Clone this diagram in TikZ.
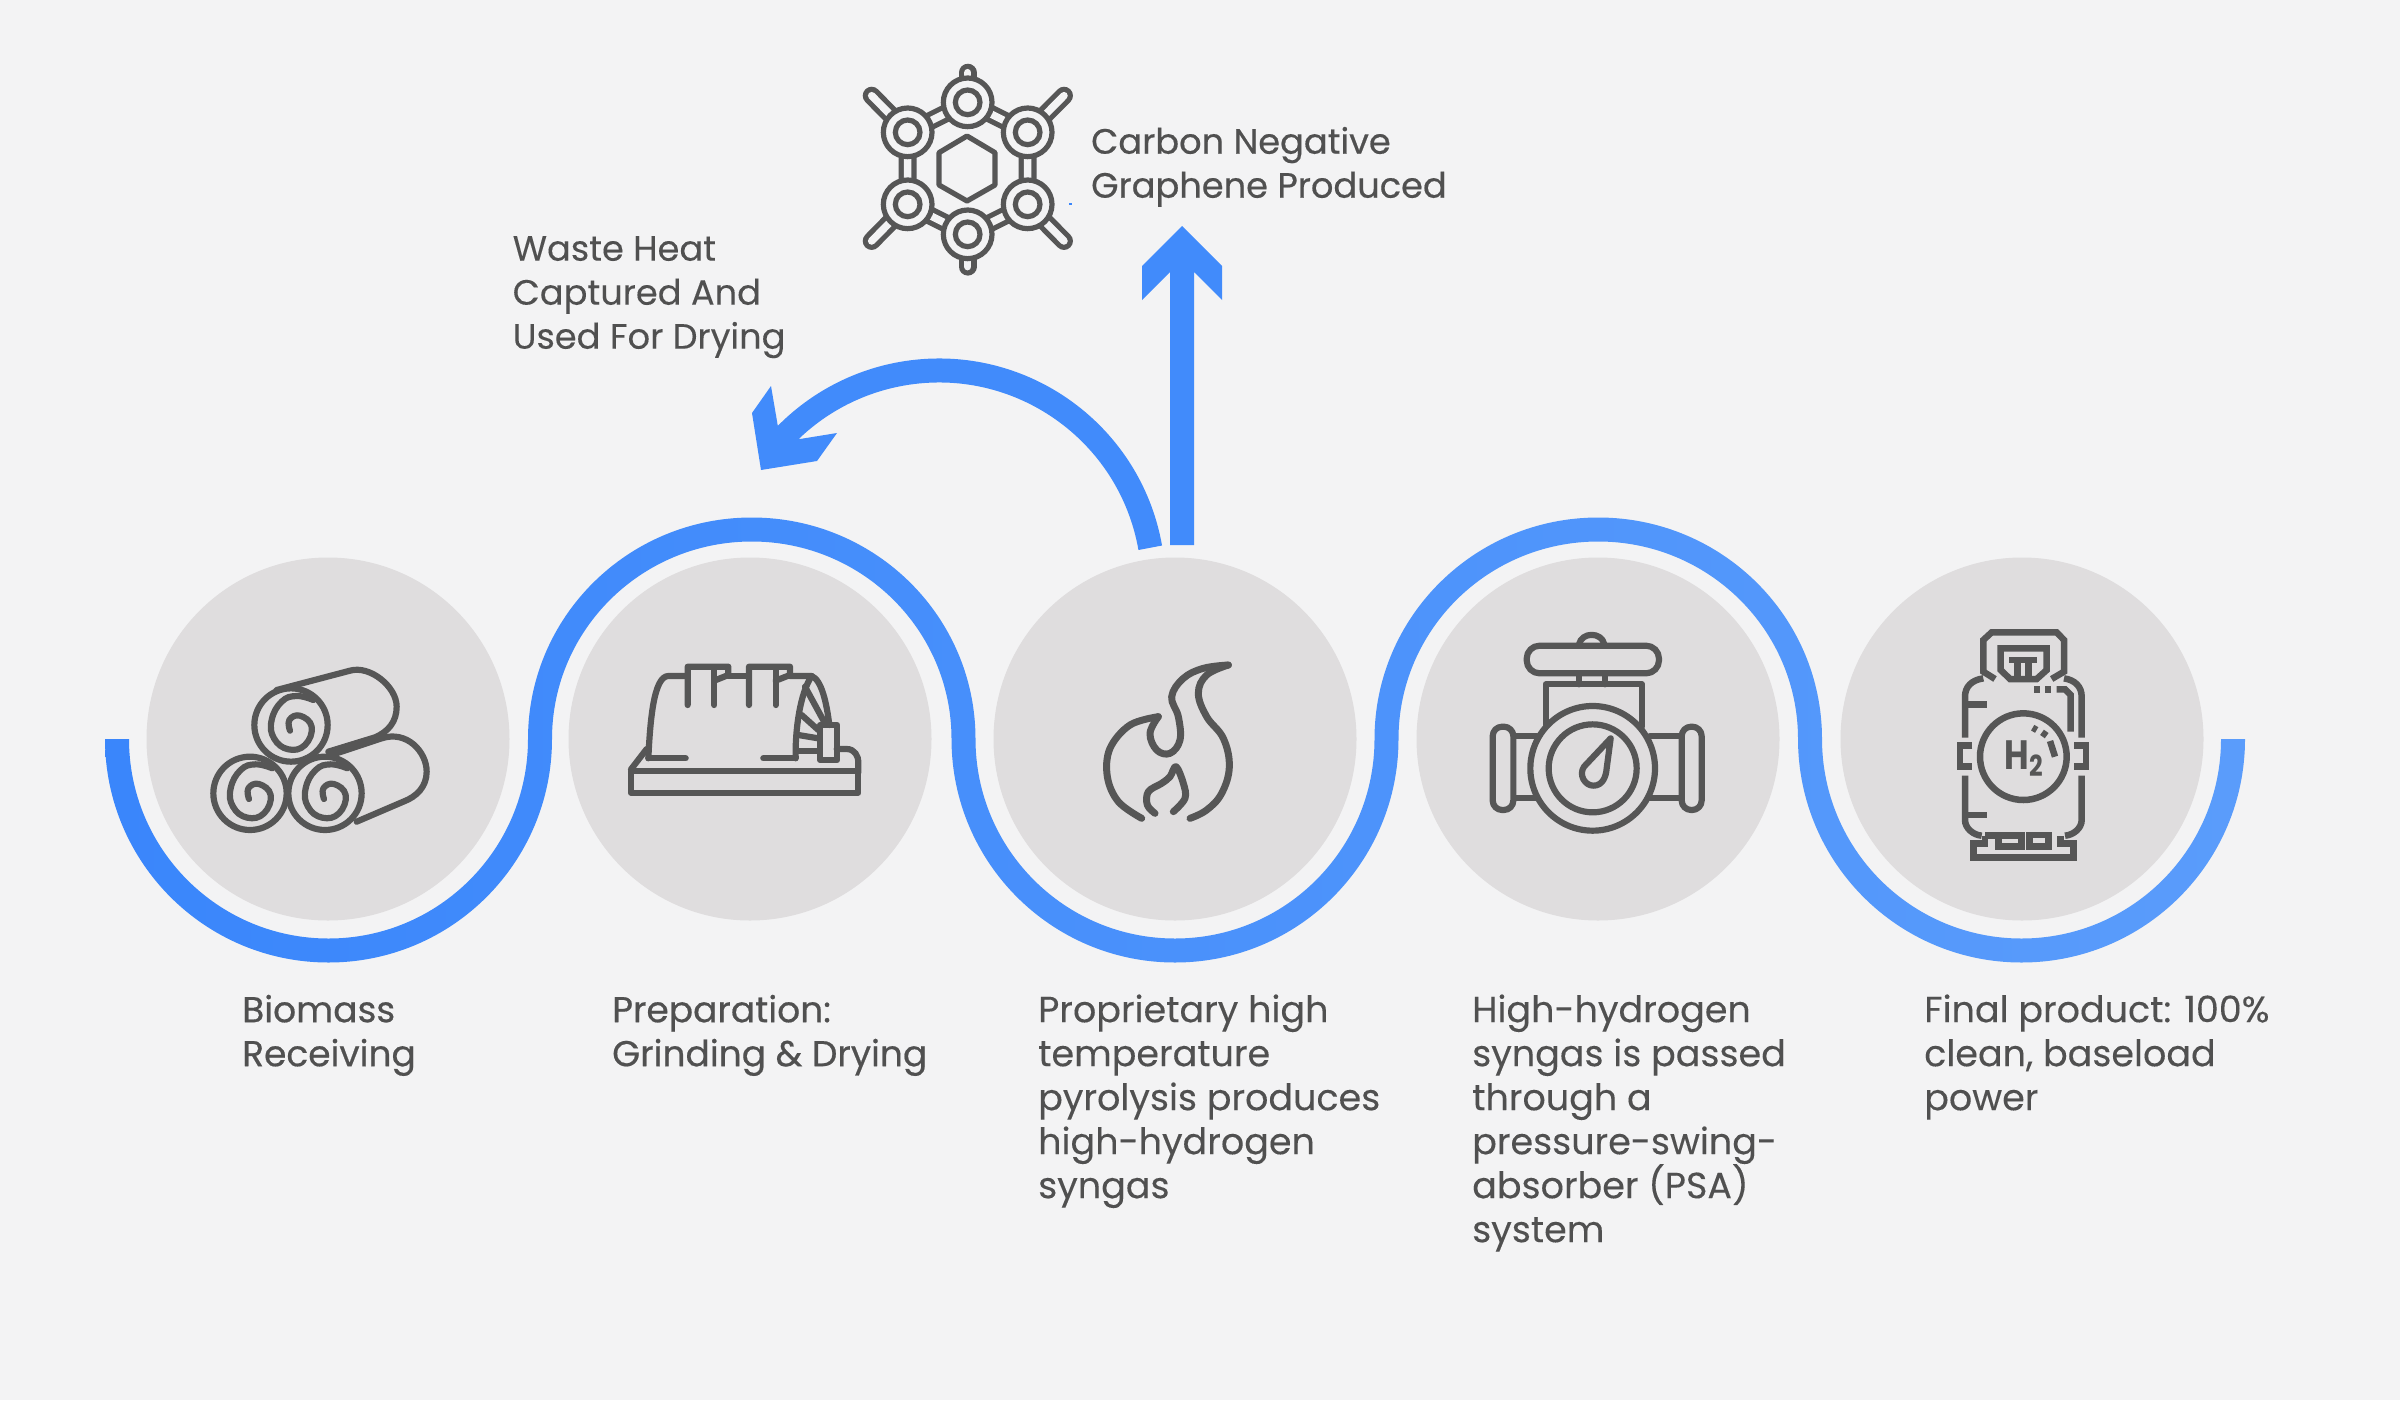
\documentclass[tikz,border=0pt]{standalone}
\usepackage{fontspec}
\usepackage{graphicx}
\usetikzlibrary{calc}
\setmainfont{Poppins}
\newfontfamily\regf{Poppins}[FakeBold=0.15]
\newfontfamily\medf{Poppins}[FakeBold=0.5]
\definecolor{bgc}{HTML}{F3F3F4}
\definecolor{disc}{HTML}{DFDDDE}
\definecolor{ink}{HTML}{565656}
\definecolor{txt}{HTML}{505050}
\definecolor{blueA}{HTML}{3A86FB}
\definecolor{blueB}{HTML}{5A9CFB}
\definecolor{blueC}{HTML}{418BFB}
\newcommand{\tl}{\rule{0pt}{30pt}}
\tikzset{
  stepdisc/.style={circle,fill=disc,minimum size=363pt,inner sep=0pt},
  lbl/.style={anchor=north west,inner sep=0pt,align=left,text=txt,font=\regf\fontsize{36.5}{44}\selectfont},
  lblm/.style={lbl,font=\medf\fontsize{36}{44}\selectfont},
  lbls/.style={lbl,font=\regf\fontsize{35.2}{44}\selectfont},
  lblc/.style={lbl,font=\medf\fontsize{35.2}{44}\selectfont},
  icon/.style={draw=ink,line width=6.2pt,line cap=round,line join=round},
  zoomed/.style={x=0.33333pt,y=-0.33333pt}
}
\begin{document}
\begin{tikzpicture}[x=1pt,y=1pt]
\useasboundingbox (0,0) rectangle (2400,-1400);
\fill[bgc] (0,0) rectangle (2400,-1400);

% discs
\node[stepdisc] (d1) at (328,-739) {};
\node[stepdisc] (d2) at (750,-739) {};
\node[stepdisc] (d3) at (1175,-739) {};
\node[stepdisc] (d4) at (1598,-739) {};
\node[stepdisc] (d5) at (2022,-739) {};

% serpentine band
\path[left color=blueA,right color=blueB]
  (105,-739)
  arc[start angle=180,end angle=360,radius=223.5]
  arc[start angle=180,end angle=0,x radius=199.75,y radius=197.5]
  arc[start angle=180,end angle=360,radius=223.5]
  arc[start angle=180,end angle=0,x radius=199.75,y radius=197.5]
  arc[start angle=180,end angle=360,radius=223.5]
  -- ++(-24,0)
  arc[start angle=360,end angle=180,radius=199.5]
  arc[start angle=0,end angle=180,x radius=223.75,y radius=221.5]
  arc[start angle=360,end angle=180,radius=199.5]
  arc[start angle=0,end angle=180,x radius=223.75,y radius=221.5]
  arc[start angle=360,end angle=180,radius=199.5]
  -- cycle;

% up arrow
\fill[blueC] (1170,-545) -- (1170,-272) -- (1142,-300) -- (1142,-266) -- (1182,-226)
  -- (1222,-266) -- (1222,-300) -- (1194,-272) -- (1194,-545) -- cycle;
% curved arrow
\coordinate (hub) at (939,-585);
\draw[blueC,line width=24pt] ($(hub)+(10:214.5)$) arc[start angle=10,end angle=139,radius=214.5];
\fill[blueC] (771,-386) -- (752,-413) -- (761,-470) -- (817,-461) -- (837,-433) -- (800,-439) -- (790,-432) -- (778,-427) -- cycle;

% labels
\node[lblm] (t1) at (242,-992) {\tl Biomass\\Receiving};
\node[lblm] (t2) at (612,-992) {\tl Preparation:\\Grinding \& Drying};
\node[lbl] (t3) at (1038,-992) {\tl Proprietary high\\temperature\\pyrolysis produces\\high-hydrogen\\syngas};
\node[lbl] (t4) at (1472,-992) {\tl High-hydrogen\\syngas is passed\\through a\\pressure-swing-\\absorber (PSA)\\system};
\node[lbl] (t5) at (1924,-992) {\tl Final product: 100\%\\clean, baseload\\power};
\node[lbls] (t6) at (512.5,-230.5) {\tl Waste Heat\\Captured And\\Used For Drying};
\node[lblc] (t7) at (1091,-123.5) {\tl Carbon Negative\\Graphene Produced};

% graphene icon
\begin{scope}[shift={(840,-50)},zoomed]
  \tikzset{bond/.style={draw=ink,line width=5.2pt,double=bgc,double distance=7.5pt}}
  \draw[bond,line cap=round] (383,68) -- (383,160);
  \draw[bond,line cap=round] (383,650) -- (383,550);
  \draw[bond,line cap=round] (95,137) -- (203,247);
  \draw[bond,line cap=round] (672,137) -- (563,247);
  \draw[bond,line cap=round] (95,573) -- (203,463);
  \draw[bond,line cap=round] (672,573) -- (563,463);
  \draw[bond] (203,247) -- (383,157) -- (563,247) -- (563,463) -- (383,553) -- (203,463) -- cycle;
  \foreach \a/\b in {383/157,203/247,563/247,203/463,563/463,383/553}{
    \draw[draw=ink,line width=5.2pt,fill=bgc] (\a,\b) circle[radius=73];
    \draw[draw=ink,line width=5.2pt] (\a,\b) circle[radius=37];
  }
  \draw[draw=ink,line width=5.2pt,line join=round] (381,258) -- (465,308) -- (465,405) -- (381,453) -- (297,405) -- (297,308) -- cycle;
\end{scope}
\fill[blueA] (1069,-205) rectangle (1071.5,-203);

% rolls icon
\begin{scope}[shift={(200,-650)},zoomed]
  \draw[icon] (230,120) -- (450,62) .. controls (510,45) and (590,110) .. (590,170) .. controls (590,215) and (565,245) .. (525,262) -- (385,305);
  \draw[icon] (385,318) -- (545,265) .. controls (620,240) and (680,305) .. (680,365) .. controls (680,410) and (650,440) .. (610,455) -- (470,515);
  \foreach \dx/\dy in {-123/205,102/205,0/0}{
    \begin{scope}[shift={(\dx,\dy)}]
      \draw[icon,fill=disc] (273,225) circle[radius=110];
      \draw[icon] plot[smooth,tension=0.75] coordinates {(270,242) (268,210) (300,197) (335,230) (315,285) (265,298) (222,265) (215,210) (245,155) (290,138) (340,150)};
    \end{scope}
  }
\end{scope}

% preparation icon
\begin{scope}[shift={(620,-650)},zoomed]
  \draw[icon] (33,363) rectangle (715,428);
  \draw[icon] (33,358) -- (80,297);
  \draw[icon] (650,297) -- (680,297) .. controls (705,297) and (715,320) .. (715,335) -- (715,368);
  \draw[icon] (85,325) .. controls (90,220) and (100,78) .. (145,78) -- (200,78);
  \draw[icon] (203,165) -- (203,50) -- (325,50) -- (325,75) -- (283,92);
  \draw[icon] (283,165) -- (283,60);
  \draw[icon] (325,78) -- (385,78);
  \draw[icon] (387,165) -- (387,50) -- (510,50) -- (510,75) -- (467,92);
  \draw[icon] (467,165) -- (467,60);
  \draw[icon] (510,78) -- (575,78) .. controls (605,90) and (620,160) .. (628,225);
  \draw[icon] (575,78) .. controls (540,130) and (525,240) .. (527,325);
  \draw[icon] (555,110) -- (615,220);
  \draw[icon] (545,195) -- (595,240);
  \draw[icon] (535,255) -- (595,265);
  \draw[icon] (530,302) -- (595,302);
  \draw[icon] (600,225) rectangle (652,330);
  \draw[icon] (85,325) -- (197,325);
  \draw[icon] (430,325) -- (527,325);
\end{scope}

% flame icon
\begin{scope}[shift={(1090,-650)},zoomed]
  \tikzset{flame/.style={icon,line width=7pt}}
  \draw[flame] plot[smooth,tension=0.6] coordinates {(155,505) (85,455) (52,380) (60,295) (120,225) (205,200)};
  \draw[flame] plot[smooth,tension=0.65] coordinates {(205,200) (180,250) (200,300) (240,310) (270,270) (265,200) (245,140) (280,85) (340,55) (415,45)};
  \draw[flame] plot[smooth,tension=0.65] coordinates {(415,45) (350,75) (325,130) (350,200) (400,265) (418,350) (395,430) (350,480) (300,505)};
  \draw[flame] plot[smooth,tension=0.6] coordinates {(195,490) (172,465) (175,425) (215,400) (240,380) (258,350) (280,400) (285,445) (250,485)};
\end{scope}

% valve icon
\begin{scope}[shift={(1480,-625)},zoomed]
  \draw[icon,rounded corners=13pt] (140,62) rectangle (537,145);
  \draw[icon] (297,58) .. controls (305,20) and (365,20) .. (373,58);
  \draw[icon] (297,145) -- (297,178);
  \draw[icon] (375,145) -- (375,178);
  \draw[icon] (197,300) -- (197,178) -- (485,178) -- (485,305);
  \draw[icon] (338,430) circle[radius=187];
  \draw[icon] (338,430) circle[radius=132];
  \draw[icon] (392,340) -- (312,425) .. controls (295,450) and (315,482) .. (340,482) .. controls (368,482) and (378,455) .. (380,430) -- cycle;
  \draw[icon,rounded corners=9.5pt] (38,305) rectangle (100,555);
  \draw[icon,rounded corners=9.5pt] (605,305) rectangle (665,555);
  \draw[icon] (105,332) -- (170,332);
  \draw[icon] (105,520) -- (170,520);
  \draw[icon] (600,332) -- (510,332);
  \draw[icon] (600,520) -- (510,520);
\end{scope}

% tank icon
\begin{scope}[shift={(1940,-625)},zoomed]
  \tikzset{tank/.style={draw=ink,line width=6.5pt,line cap=butt,line join=miter}}
  \draw[tank] (165,162) -- (130,140) -- (130,45) -- (155,22) -- (350,22) -- (372,45) -- (372,140) -- (335,162);
  \draw[tank] (182,70) -- (320,70) -- (320,135) -- (290,162) -- (210,162) -- (182,135) -- cycle;
  \draw[tank] (208,105) -- (292,105);
  \draw[tank] (232,105) -- (232,160);
  \draw[tank] (266,105) -- (266,160);
  \draw[tank] (130,160) .. controls (95,165) and (75,185) .. (75,215) -- (75,338);
  \draw[tank] (372,160) .. controls (405,165) and (425,185) .. (425,215) -- (425,338);
  \draw[tank] (282,193) -- (300,193);
  \draw[tank] (315,193) -- (333,193);
  \draw[tank] (350,193) -- (375,193) -- (392,210) -- (392,320);
  \draw[tank] (75,238) -- (140,238);
  \draw[tank] (75,570) -- (140,570);
  \draw[tank] (97,362) -- (60,362) -- (60,425) -- (97,425);
  \draw[tank] (403,362) -- (438,362) -- (438,425) -- (403,425);
  \draw[tank] (250,395) circle[radius=130];
  \node[inner sep=0pt,text=ink,font=\fontsize{41}{41}\selectfont\bfseries] (h2) at (252,400) {\scalebox{0.82}[1]{H\raisebox{-7pt}{\fontsize{29}{29}\selectfont 2}}};
  \draw[tank] (278,308) -- (290,315);
  \draw[tank] (306,322) -- (320,332);
  \draw[tank] (330,348) -- (345,395);
  \draw[tank] (75,452) -- (75,585) .. controls (75,610) and (100,630) .. (125,632);
  \draw[tank] (425,452) -- (425,585) .. controls (425,610) and (400,630) .. (375,632);
  \draw[tank] (135,632) -- (135,655) -- (100,655) -- (100,698) -- (400,698) -- (400,655) -- (362,655) -- (362,632);
  \draw[tank] (135,632) -- (245,632) -- (245,665) -- (175,665) -- (175,632);
  \draw[tank] (268,630) rectangle (325,665);
\end{scope}
\end{tikzpicture}
\end{document}
